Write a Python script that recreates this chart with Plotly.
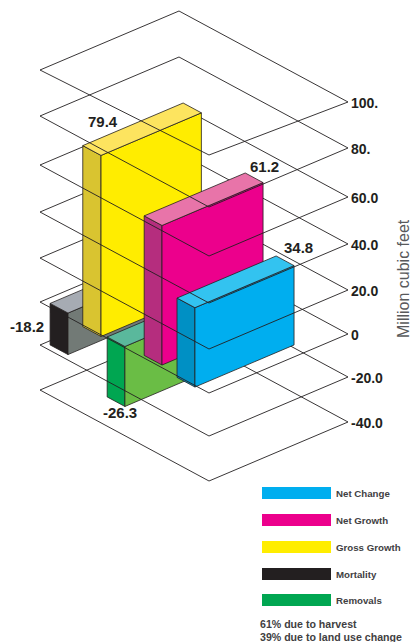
import numpy as np
import plotly.graph_objects as go

# Chart data
categories = ["Mortality", "Gross Growth", "Removals", "Net Growth", "Net Change"]
values = [-18.2, 79.4, -26.3, 61.2, 34.8]
value_labels = ["-18.2", "79.4", "-26.3", "61.2", "34.8"]
plane_values = [100, 80, 60, 40, 20, 0, -20, -40]
plane_labels = ["100.", "80.", "60.0", "40.0", "20.0", "0", "-20.0", "-40.0"]
legend_order = ["Net Change", "Net Growth", "Gross Growth", "Mortality", "Removals"]
notes = ["61% due to harvest", "39% due to land use change"]

# Oblique projection of the floor (u, v) and the value axis onto the page
TOP_CORNER = np.array([179.0, 334.0 - 91.0])
U_AXIS = np.array([169.0, 91.0])
V_AXIS = np.array([-139.0, 59.0])
SCALE_VALUES = [-40, -20, 0, 20, 40, 60, 80, 100]
SCALE_OFFSETS = [-88, -43, 0, 44, 90, 137, 186, 232]
BAR_UNITS = 2.28
# The uppermost plane is drawn slightly flatter at its near corner
NEAR_CORNER_LIFT = {100: 6}


def grid_point(u, v, z):
    offset = np.interp(z, SCALE_VALUES, SCALE_OFFSETS)
    p = TOP_CORNER + u * U_AXIS + v * V_AXIS
    return p[0], p[1] - offset


def bar_point(u, v, z):
    p = TOP_CORNER + u * U_AXIS + v * V_AXIS
    return p[0], p[1] - BAR_UNITS * z


# Footprints on the floor: u range, v range
footprints = {
    "Mortality": (0.035, 0.141, 0.30, 0.97),
    "Gross Growth": (0.263, 0.371, 0.29, 1.012),
    "Removals": (0.39, 0.495, 0.26, 0.991),
    "Net Growth": (0.60, 0.7055, 0.253, 0.98),
    "Net Change": (0.8207, 0.9267, 0.299, 1.012),
}

# Face colours: short side, long side, cap
faces = {
    "Mortality": ("#231F20", "#727A76", "#A6ABB3"),
    "Gross Growth": ("#D9C430", "#FFED00", "#FDE45F"),
    "Removals": ("#00A651", "#6ABD45", "#5AB89C"),
    "Net Growth": ("#B52D7E", "#EC008C", "#E874A9"),
    "Net Change": ("#0090C4", "#00AEEF", "#33C3F0"),
}
swatch_colors = {
    "Net Change": "#00AEEF",
    "Net Growth": "#EC008C",
    "Gross Growth": "#FFED00",
    "Mortality": "#231F20",
    "Removals": "#00A651",
}

INK = "#231F20"
fig = go.Figure()


def polyline(segments, width=0.9):
    xs, ys = [], []
    for seg in segments:
        for x, y in seg:
            xs.append(x)
            ys.append(y)
        xs.append(None)
        ys.append(None)
    fig.add_trace(go.Scatter(x=xs, y=ys, mode="lines", hoverinfo="skip",
                             line=dict(color=INK, width=width)))


def polygon(points, color):
    xs = [p[0] for p in points] + [points[0][0]]
    ys = [p[1] for p in points] + [points[0][1]]
    fig.add_trace(go.Scatter(x=xs, y=ys, mode="lines", fill="toself", fillcolor=color,
                             hoverinfo="skip", line=dict(color=INK, width=0.8)))


# Rear edges of each plane sit behind the bars
polyline([[grid_point(0, 1, z), grid_point(0, 0, z), grid_point(1, 0, z)] for z in plane_values])

# Bars, painted from the far side to the near side
for name, value in zip(categories, values):
    u0, u1, v0, v1 = footprints[name]
    short, long_side, cap = faces[name]
    top = max(value, 0)
    low = min(value, 0)
    polygon([bar_point(u0, v1, top), bar_point(u1, v1, top), bar_point(u1, v1, low), bar_point(u0, v1, low)], short)
    polygon([bar_point(u1, v1, top), bar_point(u1, v0, top), bar_point(u1, v0, low), bar_point(u1, v1, low)], long_side)
    polygon([bar_point(u0, v1, top), bar_point(u0, v0, top), bar_point(u1, v0, top), bar_point(u1, v1, top)], cap)


def near_corner(z):
    x, y = grid_point(1, 1, z)
    return x, y - NEAR_CORNER_LIFT.get(z, 0)


# Front edges of each plane run over the bars
polyline([[grid_point(0, 1, z), near_corner(z), grid_point(1, 0, z)] for z in plane_values])

annotations = []


def label(x, y, text, size, anchor="left", color=INK, bold=True, angle=0):
    annotations.append(dict(
        x=x, y=y, text=f"<b>{text}</b>" if bold else text, showarrow=False,
        xanchor=anchor, yanchor="middle", textangle=angle,
        font=dict(family="Liberation Sans", size=size, color=color),
    ))


for z, text in zip(plane_values, plane_labels):
    x, y = grid_point(1, 0, z)
    label(x + 1, y + 1, text, 14)

# Value labels beside each bar
for text, (x, y) in zip(value_labels, [(27, 326), (103, 121), (120, 412), (264, 166), (298, 247)]):
    label(x, y, text, 15, anchor="center")

label(403, 279, "Million cubic feet", 16, anchor="center", color="#58595B", bold=False, angle=-90)

# Colour key
shapes = []
for name, top in zip(legend_order, [487, 514, 541, 568, 594]):
    shapes.append(dict(type="rect", x0=262, x1=331, y0=top, y1=top + 12,
                       fillcolor=swatch_colors[name], line=dict(width=0), layer="above"))
    label(334, top + 6, name, 9.7, color="#414042")

for text, y in zip(notes, [624, 637]):
    label(258, y, text, 10.6, color="#414042")

fig.update_layout(
    width=412, height=642, margin=dict(l=0, r=0, t=0, b=0),
    paper_bgcolor="white", plot_bgcolor="white", showlegend=False,
    xaxis=dict(range=[0, 412], visible=False, fixedrange=True),
    yaxis=dict(range=[642, 0], visible=False, fixedrange=True),
    annotations=annotations, shapes=shapes,
)
fig.write_html("out.html", config={"displayModeBar": False})
